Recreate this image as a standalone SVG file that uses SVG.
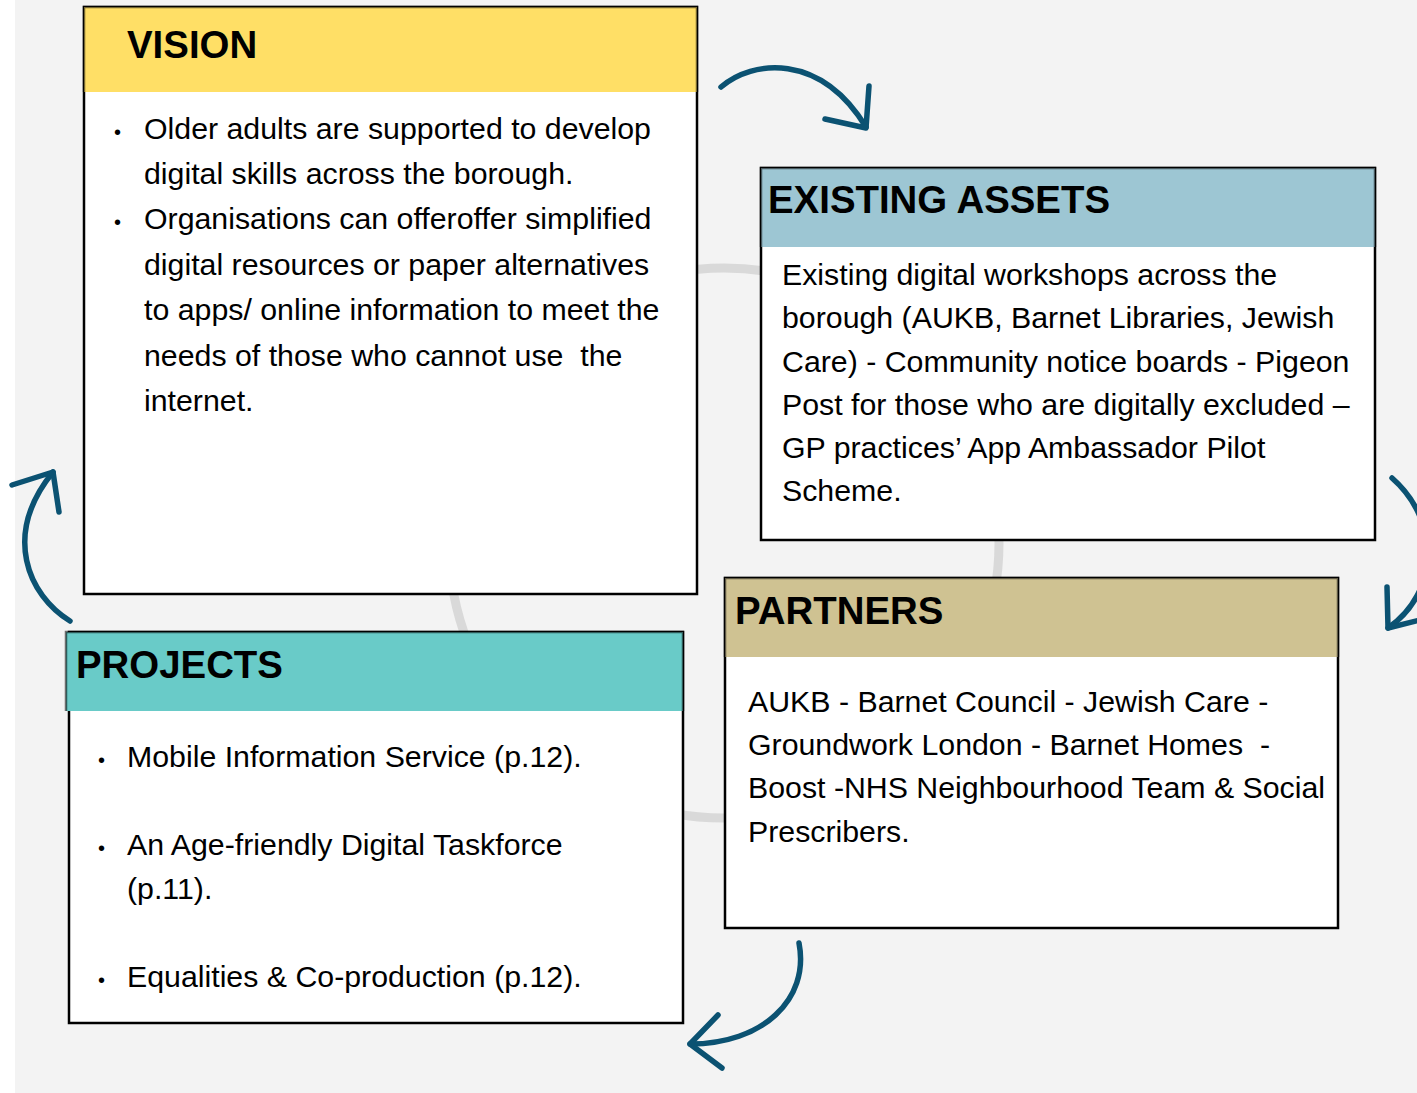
<svg xmlns="http://www.w3.org/2000/svg" width="1417" height="1093" viewBox="0 0 1417 1093">
<defs>
<style>
.box{fill:#ffffff;stroke:#000000;stroke-width:2.5}
.hdr-edge{fill:none;stroke:#000000;stroke-opacity:0.55;stroke-width:2.5}
.title{font-family:"Liberation Sans",Arial,sans-serif;font-weight:bold;font-size:38.4px;fill:#000000}
.body{font-family:"Liberation Sans",Arial,sans-serif;font-size:30.3px;fill:#000000}
.bullet{font-family:"Liberation Sans",Arial,sans-serif;font-size:20px;fill:#000000}
.arrow{fill:none;stroke:#0b5272;stroke-width:5.5;stroke-linecap:round;stroke-linejoin:round}
</style>
</defs>
<rect x="0" y="0" width="1417" height="1093" fill="#ffffff"/>
<rect x="15" y="0" width="1402" height="1093" fill="#f3f3f3"/>
<circle cx="724" cy="543" r="275" fill="none" stroke="#d9d9d9" stroke-width="9"/>

<g id="vision">
<rect class="box" x="84" y="7" width="613" height="587"/>
<rect x="84" y="7" width="613" height="85" fill="#ffdf66"/>
<path class="hdr-edge" d="M84,92 V7 H697 V92"/>
<text class="title" x="127" y="58">VISION</text>
<text class="bullet" x="114" y="139">•</text>
<text class="body" x="144" y="139">Older adults are supported to develop</text>
<text class="body" x="144" y="184">digital skills across the borough.</text>
<text class="bullet" x="114" y="229">•</text>
<text class="body" x="144" y="229">Organisations can offeroffer simplified</text>
<text class="body" x="144" y="275">digital resources or paper alternatives</text>
<text class="body" x="144" y="320">to apps/ online information to meet the</text>
<text class="body" x="144" y="366" xml:space="preserve">needs of those who cannot use  the</text>
<text class="body" x="144" y="411">internet.</text>
</g>

<g id="existing-assets">
<rect class="box" x="761" y="168" width="614" height="372"/>
<rect x="761" y="168" width="614" height="79" fill="#9dc6d3"/>
<path class="hdr-edge" d="M761,247 V168 H1375 V247"/>
<text class="title" x="768" y="213">EXISTING ASSETS</text>
<text class="body" x="782" y="285">Existing digital workshops across the</text>
<text class="body" x="782" y="328">borough (AUKB, Barnet Libraries, Jewish</text>
<text class="body" x="782" y="372">Care) - Community notice boards - Pigeon</text>
<text class="body" x="782" y="415">Post for those who are digitally excluded –</text>
<text class="body" x="782" y="458">GP practices’ App Ambassador Pilot</text>
<text class="body" x="782" y="501">Scheme.</text>
</g>

<g id="partners">
<rect class="box" x="725" y="578" width="613" height="350"/>
<rect x="725" y="578" width="613" height="79" fill="#cfc292"/>
<path class="hdr-edge" d="M725,657 V578 H1338 V657"/>
<text class="title" x="735" y="624">PARTNERS</text>
<text class="body" x="748" y="712">AUKB - Barnet Council - Jewish Care -</text>
<text class="body" x="748" y="755" xml:space="preserve">Groundwork London - Barnet Homes  -</text>
<text class="body" x="748" y="798">Boost -NHS Neighbourhood Team &amp; Social</text>
<text class="body" x="748" y="842">Prescribers.</text>
</g>

<g id="projects">
<rect class="box" x="69" y="632" width="614" height="391"/>
<rect x="66" y="632" width="617" height="79" fill="#69cbc8"/>
<path class="hdr-edge" d="M66,711 V632 H683 V711"/>
<text class="title" x="76" y="678">PROJECTS</text>
<text class="bullet" x="98" y="767">•</text>
<text class="body" x="127" y="767">Mobile Information Service (p.12).</text>
<text class="bullet" x="98" y="855">•</text>
<text class="body" x="127" y="855">An Age-friendly Digital Taskforce</text>
<text class="body" x="127" y="899">(p.11).</text>
<text class="bullet" x="98" y="987">•</text>
<text class="body" x="127" y="987">Equalities &amp; Co-production (p.12).</text>
</g>

<g id="connectors">
<path class="arrow" d="M721,87 C752,60 820,52 866,127"/>
<path class="arrow" d="M825,119 L866,128 L869,86"/>
<path class="arrow" d="M70,621 C28,595 2,535 53,472"/>
<path class="arrow" d="M12,485 L53,472 L59,512"/>
<path class="arrow" d="M1392,478 C1440,520 1440,592 1388,628"/>
<path class="arrow" d="M1387,587 L1388,628 L1432,617"/>
<path class="arrow" d="M799,943 C810,1000 762,1044 690,1044"/>
<path class="arrow" d="M718,1015 L690,1044 L722,1068"/>
</g>
</svg>
